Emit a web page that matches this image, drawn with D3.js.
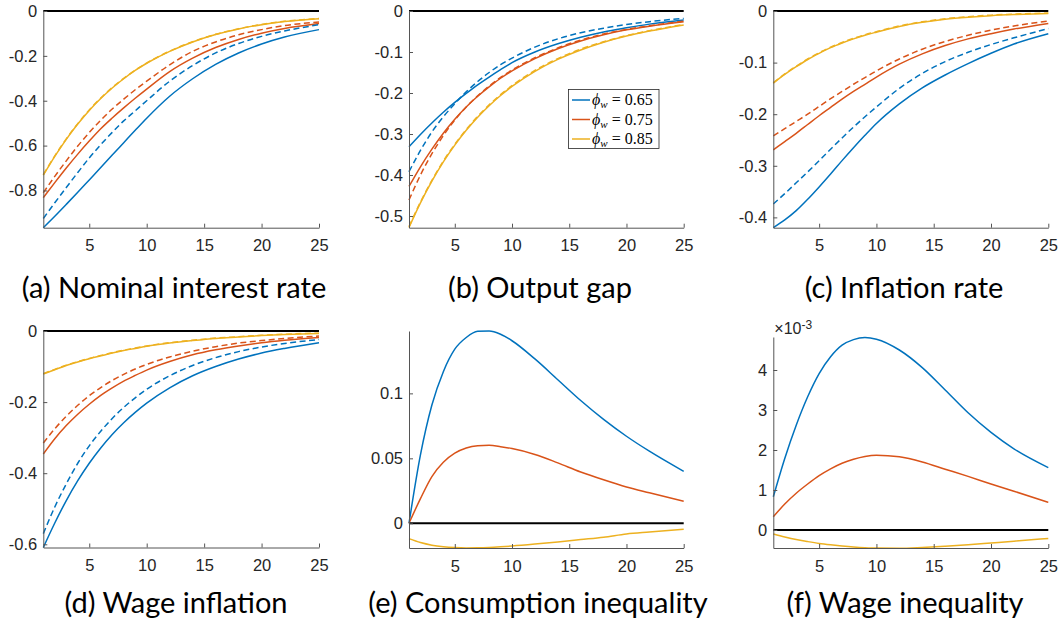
<!DOCTYPE html>
<html>
  <head>
    <meta charset="utf-8">
    <title>Impulse responses by wage stickiness</title>
    <style type="text/css">
        body { margin: 0; background: #fff; }
        svg { display: block; }
    </style>
  </head>
  <body>
    <svg width="1059" height="627"></svg>

    <script src="https://d3js.org/d3.v7.min.js"></script>
    <script>

    var periods = [1, 2, 3, 4, 5, 6, 7, 8, 9, 10, 12, 14, 16, 18, 20, 22, 25];
    var phiValues = ["0.65", "0.75", "0.85"];
    var xTicks = [5, 10, 15, 20, 25];

    // (a) Nominal interest rate: [phi 0.65, phi 0.75, phi 0.85]
    var rateSolid = [
      [-0.966, -0.915, -0.862, -0.808, -0.753, -0.698, -0.642, -0.587, -0.532, -0.478, -0.38, -0.302, -0.238, -0.187, -0.147, -0.116, -0.083],
      [-0.832, -0.765, -0.7, -0.638, -0.58, -0.525, -0.477, -0.432, -0.389, -0.348, -0.27, -0.21, -0.163, -0.127, -0.099, -0.078, -0.056],
      [-0.732, -0.648, -0.572, -0.504, -0.443, -0.39, -0.343, -0.302, -0.265, -0.233, -0.18, -0.138, -0.105, -0.08, -0.061, -0.047, -0.034]
    ];
    var rateDashed = [
      [-0.925, -0.855, -0.787, -0.72, -0.655, -0.596, -0.541, -0.49, -0.445, -0.40, -0.313, -0.243, -0.187, -0.145, -0.113, -0.089, -0.061],
      [-0.81, -0.737, -0.668, -0.602, -0.542, -0.487, -0.437, -0.393, -0.351, -0.313, -0.24, -0.18, -0.138, -0.106, -0.083, -0.065, -0.049],
      [-0.729, -0.646, -0.57, -0.502, -0.441, -0.388, -0.341, -0.3, -0.264, -0.232, -0.179, -0.137, -0.104, -0.079, -0.06, -0.046, -0.033]
    ];

    // (b) Output gap
    var gapSolid = [
      [-0.331, -0.301, -0.273, -0.247, -0.223, -0.201, -0.18, -0.161, -0.143, -0.126, -0.1, -0.08, -0.064, -0.051, -0.041, -0.032, -0.022],
      [-0.428, -0.38, -0.337, -0.298, -0.264, -0.234, -0.208, -0.185, -0.164, -0.146, -0.116, -0.092, -0.073, -0.058, -0.046, -0.037, -0.026],
      [-0.528, -0.468, -0.415, -0.368, -0.327, -0.291, -0.259, -0.231, -0.206, -0.184, -0.147, -0.118, -0.095, -0.076, -0.061, -0.049, -0.034]
    ];
    var gapDashed = [
      [-0.392, -0.34, -0.295, -0.258, -0.226, -0.197, -0.172, -0.15, -0.131, -0.115, -0.088, -0.068, -0.053, -0.042, -0.033, -0.026, -0.018],
      [-0.461, -0.40, -0.348, -0.304, -0.266, -0.234, -0.207, -0.183, -0.162, -0.144, -0.114, -0.09, -0.071, -0.056, -0.045, -0.036, -0.025],
      [-0.526, -0.466, -0.413, -0.366, -0.325, -0.289, -0.257, -0.229, -0.204, -0.182, -0.145, -0.116, -0.093, -0.075, -0.06, -0.048, -0.033]
    ];

    // (c) Inflation rate
    var inflSolid = [
      [-0.42, -0.405, -0.387, -0.365, -0.341, -0.316, -0.29, -0.265, -0.241, -0.218, -0.18, -0.149, -0.124, -0.102, -0.082, -0.064, -0.044],
      [-0.269, -0.253, -0.237, -0.22, -0.203, -0.187, -0.171, -0.156, -0.142, -0.128, -0.103, -0.083, -0.067, -0.054, -0.044, -0.035, -0.024],
      [-0.14, -0.123, -0.108, -0.094, -0.082, -0.071, -0.062, -0.054, -0.047, -0.041, -0.03, -0.022, -0.016, -0.012, -0.009, -0.007, -0.005]
    ];
    var inflDashed = [
      [-0.374, -0.354, -0.333, -0.312, -0.29, -0.268, -0.246, -0.225, -0.205, -0.186, -0.15, -0.121, -0.098, -0.08, -0.065, -0.052, -0.034],
      [-0.242, -0.228, -0.214, -0.2, -0.185, -0.17, -0.156, -0.142, -0.129, -0.116, -0.093, -0.074, -0.059, -0.047, -0.037, -0.029, -0.0195],
      [-0.139, -0.122, -0.107, -0.093, -0.081, -0.07, -0.061, -0.053, -0.046, -0.04, -0.029, -0.021, -0.015, -0.011, -0.008, -0.006, -0.004]
    ];

    // (d) Wage inflation
    var wageSolid = [
      [-0.609, -0.54, -0.477, -0.421, -0.372, -0.329, -0.291, -0.258, -0.229, -0.203, -0.16, -0.126, -0.1, -0.079, -0.062, -0.049, -0.033],
      [-0.346, -0.303, -0.266, -0.234, -0.206, -0.181, -0.16, -0.141, -0.125, -0.11, -0.086, -0.067, -0.053, -0.042, -0.033, -0.026, -0.018],
      [-0.121, -0.109, -0.097, -0.087, -0.078, -0.07, -0.062, -0.055, -0.049, -0.043, -0.034, -0.027, -0.021, -0.017, -0.013, -0.01, -0.007]
    ];
    var wageDashed = [
      [-0.57, -0.495, -0.43, -0.372, -0.323, -0.282, -0.246, -0.215, -0.188, -0.164, -0.126, -0.097, -0.075, -0.058, -0.045, -0.035, -0.024],
      [-0.315, -0.275, -0.24, -0.209, -0.182, -0.159, -0.139, -0.122, -0.107, -0.094, -0.073, -0.057, -0.044, -0.034, -0.027, -0.021, -0.014],
      [-0.12, -0.108, -0.096, -0.086, -0.077, -0.069, -0.061, -0.054, -0.048, -0.042, -0.033, -0.026, -0.02, -0.016, -0.012, -0.009, -0.006]
    ];

    // (e) Consumption inequality
    var consIneq = [
      [0, 0.0526, 0.091, 0.1167, 0.134, 0.143, 0.1478, 0.148, 0.1455, 0.1405, 0.1265, 0.1105, 0.0945, 0.08, 0.067, 0.0555, 0.04],
      [0, 0.019, 0.036, 0.047, 0.054, 0.058, 0.0597, 0.06, 0.059, 0.0575, 0.053, 0.0465, 0.0395, 0.0335, 0.028, 0.0235, 0.017],
      [-0.0118, -0.0148, -0.0168, -0.018, -0.0187, -0.019, -0.0189, -0.0186, -0.0181, -0.0175, -0.016, -0.0143, -0.0125, -0.0107, -0.0082, -0.0067, -0.0046]
    ];

    // (f) Wage inequality, in units of 1e-3
    var wageIneq = [
      [0.83, 1.79, 2.62, 3.33, 3.91, 4.33, 4.62, 4.76, 4.81, 4.77, 4.5, 4.06, 3.5, 2.93, 2.44, 2.03, 1.56],
      [0.33, 0.65, 0.92, 1.15, 1.36, 1.53, 1.67, 1.77, 1.84, 1.87, 1.83, 1.7, 1.52, 1.34, 1.15, 0.97, 0.69],
      [-0.1, -0.175, -0.24, -0.29, -0.335, -0.37, -0.4, -0.425, -0.443, -0.453, -0.455, -0.435, -0.405, -0.37, -0.325, -0.28, -0.21]
    ];

    var colors = ["#0072BD", "#D95319", "#EDB120"];

    var panels = [
      { solid: rateSolid, dashed: rateDashed, yDomain: [-0.966, 0], yTicks: [0, -0.2, -0.4, -0.6, -0.8],
        left: 43.3, right: 319, top: 11, bottom: 227.7,
        caption: "(a) Nominal interest rate", capX: 174, capY: 298 },
      { solid: gapSolid, dashed: gapDashed, yDomain: [-0.5285, 0], yTicks: [0, -0.1, -0.2, -0.3, -0.4, -0.5],
        left: 409, right: 683.7, top: 11, bottom: 227.7,
        caption: "(b) Output gap", capX: 540, capY: 298 },
      { solid: inflSolid, dashed: inflDashed, yDomain: [-0.42, 0], yTicks: [0, -0.1, -0.2, -0.3, -0.4],
        left: 773.3, right: 1048.3, top: 11, bottom: 227.7,
        caption: "(c) Inflation rate", capX: 904, capY: 298 },
      { solid: wageSolid, dashed: wageDashed, yDomain: [-0.609, 0], yTicks: [0, -0.2, -0.4, -0.6],
        left: 43.3, right: 319, top: 331, bottom: 547.5,
        caption: "(d) Wage inflation", capX: 176, capY: 613 },
      { solid: consIneq, dashed: null, yDomain: [-0.019, 0.148], yTicks: [0, 0.05, 0.1],
        left: 409, right: 683.7, top: 331, bottom: 548,
        caption: "(e) Consumption inequality", capX: 538, capY: 613 },
      { solid: wageIneq, dashed: null, yDomain: [-0.45, 4.825], yTicks: [0, 1, 2, 3, 4],
        left: 773.3, right: 1048.3, top: 337, bottom: 548, exponent: true,
        caption: "(f) Wage inequality", capX: 905, capY: 613 }
    ];

    var svg = d3.select("svg");
    var tickFont = "'Liberation Sans', Arial, sans-serif";

    panels.forEach(function(p) {
        var x = d3.scaleLinear().domain([1, 25]).range([p.left, p.right]);
        var y = d3.scaleLinear().domain(p.yDomain).range([p.bottom, p.top]);
        var g = svg.append("g");

        var line = d3.line()
            .x(function(d, i) { return x(periods[i]); })
            .y(function(d) { return y(d); })
            .curve(d3.curveMonotoneX);

        // solid lines then dashed lines
        p.solid.forEach(function(s, i) {
            g.append("path")
                .attr("d", line(s))
                .attr("fill", "none")
                .attr("stroke", colors[i])
                .attr("stroke-width", 1.5);
        });
        if (p.dashed) {
            p.dashed.forEach(function(s, i) {
                g.append("path")
                    .attr("d", line(s))
                    .attr("fill", "none")
                    .attr("stroke", colors[i])
                    .attr("stroke-width", 1.5)
                    .attr("stroke-dasharray", "6,3.5");
            });
        }

        // zero line
        g.append("line")
            .attr("x1", x(1)).attr("x2", x(25))
            .attr("y1", y(0)).attr("y2", y(0))
            .attr("stroke", "#000")
            .attr("stroke-width", 2);

        // axes, ticks pointing inward
        var xAxis = g.append("g")
            .attr("transform", "translate(0," + p.bottom + ")")
            .call(d3.axisBottom(x).tickValues(xTicks).tickSizeInner(-4).tickSizeOuter(0).tickPadding(12)
                .tickFormat(function(d) { return String(d); }));
        var yAxis = g.append("g")
            .attr("transform", "translate(" + p.left + ",0)")
            .call(d3.axisLeft(y).tickValues(p.yTicks).tickSizeInner(-4).tickSizeOuter(0).tickPadding(6)
                .tickFormat(function(d) { return String(d); }));

        [xAxis, yAxis].forEach(function(a) {
            a.attr("font-family", tickFont).attr("font-size", 16.5);
            a.select(".domain").attr("stroke", "#555");
            a.selectAll(".tick line").attr("stroke", "#555");
            a.selectAll(".tick text").attr("fill", "#262626");
        });

        if (p.exponent) {
            var ex = g.append("text")
                .attr("x", p.left + 1)
                .attr("y", p.top - 3)
                .attr("font-family", tickFont)
                .attr("font-size", 16)
                .attr("fill", "#262626")
                .text("\u00d710");
            ex.append("tspan")
                .attr("font-size", 12)
                .attr("dy", -5)
                .text("-3");
        }

        // caption
        svg.append("text")
            .attr("x", p.capX)
            .attr("y", p.capY)
            .attr("text-anchor", "middle")
            .attr("font-family", "Lato, 'Open Sans', sans-serif")
            .attr("font-size", 29)
            .attr("fill", "#000")
            .text(p.caption);
    });

    // Legend inside panel (b)
    var legend = svg.append("g").attr("transform", "translate(568.5,89.5)");
    legend.append("rect")
        .attr("width", 90.5)
        .attr("height", 59)
        .attr("fill", "#fff")
        .attr("stroke", "#262626")
        .attr("stroke-width", 0.8);

    phiValues.forEach(function(v, i) {
        var row = legend.append("g").attr("transform", "translate(0," + (10.5 + i * 19.5) + ")");
        row.append("line")
            .attr("x1", 3.5).attr("x2", 21.5)
            .attr("stroke", colors[i])
            .attr("stroke-width", 1.5);
        var t = row.append("text")
            .attr("x", 23.5)
            .attr("y", 5)
            .attr("font-family", "'Liberation Serif', 'DejaVu Serif', serif")
            .attr("font-size", 16)
            .attr("fill", "#000");
        t.append("tspan").attr("font-style", "italic").text("\u03d5");
        t.append("tspan").attr("font-style", "italic").attr("font-size", 11).attr("dy", 3).text("w");
        t.append("tspan").attr("dy", -3).text(" = " + v);
    });

    </script>
  </body>
</html>
